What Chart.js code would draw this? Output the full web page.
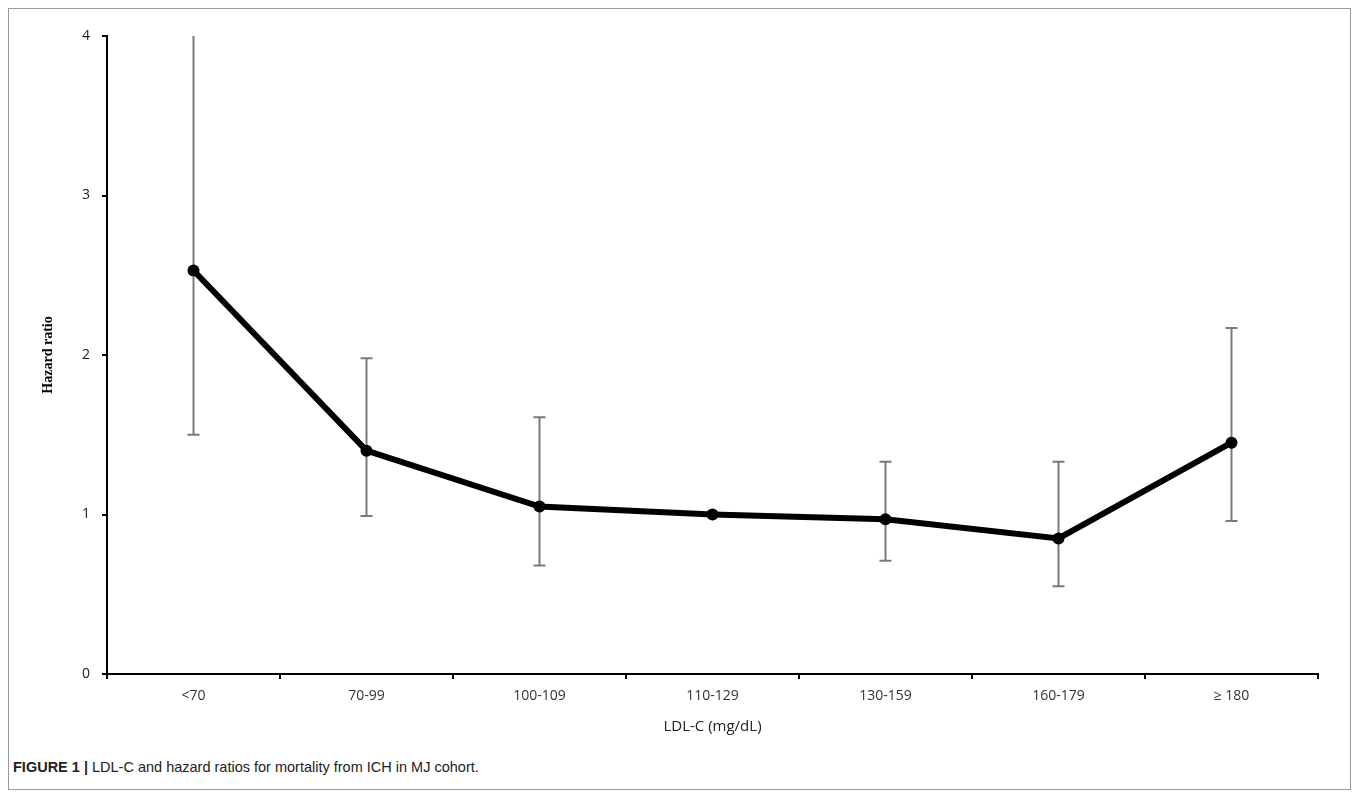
<!DOCTYPE html>
<html>
<head>
<meta charset="utf-8">
<script src="https://cdn.jsdelivr.net/npm/chart.js@4"></script>
<style>
  html, body { margin: 0; padding: 0; background: #fff; }
  #frame {
    position: absolute; left: 8px; top: 8px; width: 1343px; height: 782px;
    border: 1px solid #9a9a9a; box-sizing: border-box;
  }
  #wrap { position: absolute; left: 0; top: 0; width: 1360px; height: 740px; }
  #caption {
    position: absolute; left: 13px; top: 759px;
    font-family: "Liberation Sans", Arial, sans-serif; font-size: 14.5px; color: #222;
  }
</style>
</head>
<body>
<div id="frame"></div>
<div id="wrap"><canvas id="myChart"></canvas></div>
<div id="caption"><b>FIGURE 1 |</b> LDL-C and hazard ratios for mortality from ICH in MJ cohort.</div>
<script>
// Values
const categories = ['<70', '70-99', '100-109', '110-129', '130-159', '160-179', '\u2265 180'];
const hazardRatio = [2.53, 1.40, 1.05, 1.00, 0.97, 0.85, 1.45];
const ciLower = [1.50, 0.99, 0.68, null, 0.71, 0.55, 0.96];
const ciUpper = [4.30, 1.98, 1.61, null, 1.33, 1.33, 2.17];
const yTicks = [0, 1, 2, 3, 4];

// error bars, drawn through the chart scales
const errorBars = {
    id: 'errorBars',
    beforeDatasetsDraw(chart) {
        const { ctx, chartArea, scales: { x, y } } = chart;
        ctx.save();
        ctx.beginPath();
        ctx.rect(chartArea.left, chartArea.top, chartArea.right - chartArea.left, chartArea.bottom - chartArea.top);
        ctx.clip();
        ctx.strokeStyle = '#7a7a7a';
        ctx.lineWidth = 2;
        categories.forEach((c, i) => {
            if (ciLower[i] == null) return;
            const px = x.getPixelForValue(i);
            const top = y.getPixelForValue(ciUpper[i]);
            const bot = y.getPixelForValue(ciLower[i]);
            ctx.beginPath();
            ctx.moveTo(px, top);
            ctx.lineTo(px, bot);
            ctx.moveTo(px - 6, top);
            ctx.lineTo(px + 6, top);
            ctx.moveTo(px - 6, bot);
            ctx.lineTo(px + 6, bot);
            ctx.stroke();
        });
        ctx.restore();
    }
};

const ctx = document.getElementById('myChart').getContext('2d');

const myChart = new Chart(ctx, {
    type: 'line',
    data: {
        labels: categories,
        datasets: [{
            label: 'Hazard ratio',
            data: hazardRatio,
            borderColor: '#000',
            backgroundColor: '#000',
            borderWidth: 6,
            pointRadius: 6,
            pointHoverRadius: 6,
            pointBackgroundColor: '#000',
            pointBorderWidth: 0,
            tension: 0
        }]
    },
    options: {
        responsive: true,
        maintainAspectRatio: false,
        animation: false,
        layout: { padding: { top: 36, right: 42, left: 0, bottom: 0 } },
        plugins: {
            legend: { display: false },
            tooltip: { enabled: false }
        },
        scales: {
            x: {
                offset: true,
                grid: { offset: true, drawOnChartArea: false, tickLength: 5, color: '#000', lineWidth: 2 },
                border: { color: '#000', width: 2 },
                ticks: {
                    color: '#333',
                    padding: 9,
                    font: { family: 'Open Sans', size: 14 }
                },
                title: {
                    display: true,
                    text: 'LDL-C (mg/dL)',
                    color: '#222',
                    padding: { top: 6, bottom: 4 },
                    font: { family: 'Open Sans', size: 15 }
                },
                afterFit(scale) { scale.height = 66; }
            },
            y: {
                min: 0,
                max: 4,
                afterBuildTicks(scale) { scale.ticks = yTicks.map(v => ({ value: v })); },
                grid: { drawOnChartArea: false, tickLength: 5, color: '#000', lineWidth: 2 },
                border: { color: '#000', width: 2 },
                ticks: {
                    color: '#222',
                    padding: 12,
                    font: { family: 'Open Sans', size: 14 }
                },
                title: {
                    display: true,
                    text: 'Hazard ratio',
                    color: '#000',
                    padding: { top: 40, bottom: 0 },
                    font: { family: 'Liberation Serif', size: 14, weight: 'bold' }
                },
                afterFit(scale) { scale.width = 107; }
            }
        }
    },
    plugins: [errorBars]
});
</script>
</body>
</html>
